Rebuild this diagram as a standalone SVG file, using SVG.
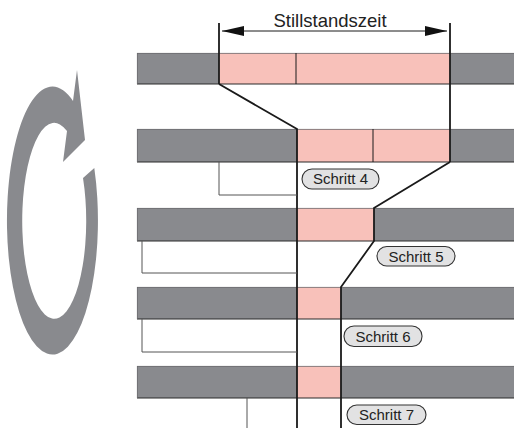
<svg xmlns="http://www.w3.org/2000/svg" width="514" height="428" viewBox="0 0 514 428">
<defs>
<style>
.bar{fill:#898a8e;}
.pink{fill:#f8c1ba;}
.edgeB{stroke:#2a2a2a;stroke-width:1.2;fill:none;}
.edgeT{stroke:#6a6a6e;stroke-width:0.8;fill:none;}
.blk{stroke:#1a1a1a;stroke-width:1.8;fill:none;}
.thin{stroke:#1a1a1a;stroke-width:1;fill:none;}
.brk{stroke:#555;stroke-width:1;fill:none;}
.pill{fill:#e2e2e3;stroke:#333;stroke-width:1.1;}
.lbl{font-family:"Liberation Sans",Arial,sans-serif;font-size:15px;fill:#222;text-anchor:middle;}
</style>
<marker id="ah" viewBox="0 0 22 10" refX="22" refY="5" markerWidth="22" markerHeight="10" markerUnits="userSpaceOnUse" orient="auto-start-reverse">
<path d="M0,0 L22,5 L0,10 Z" fill="#111"/>
</marker>
</defs>
<rect width="514" height="428" fill="#fff"/>

<g id="cycle-arrow">
<path d="M94.3,168 A45.5,134 0 1 1 73,101 L77,70 L85,140 L63,162 L67,131 A32,98 0 1 0 83,178 Z" fill="#898a8e"/>
</g>

<g id="row1">
<rect class="bar" x="137" y="53" width="377" height="31"/>
<rect class="pink" x="219" y="53" width="231" height="31"/>
<line class="edgeT" x1="137" y1="53.4" x2="514" y2="53.4"/>
<line class="edgeB" x1="137" y1="84" x2="514" y2="84"/>
<line class="edgeT" x1="137.4" y1="53" x2="137.4" y2="84"/>
<line class="thin" x1="296" y1="53" x2="296" y2="84"/>
</g>

<g id="row2">
<rect class="bar" x="137" y="129" width="377" height="33"/>
<rect class="pink" x="297" y="129" width="153" height="33"/>
<line class="edgeT" x1="137" y1="129.4" x2="514" y2="129.4"/>
<line class="edgeB" x1="137" y1="162" x2="514" y2="162"/>
<line class="edgeT" x1="137.4" y1="129" x2="137.4" y2="162"/>
<line class="thin" x1="373" y1="129" x2="373" y2="162"/>
</g>

<g id="row3">
<rect class="bar" x="137" y="208" width="377" height="33"/>
<rect class="pink" x="297" y="208" width="77" height="33"/>
<line class="edgeT" x1="137" y1="208.4" x2="514" y2="208.4"/>
<line class="edgeB" x1="137" y1="241" x2="514" y2="241"/>
<line class="edgeT" x1="137.4" y1="208" x2="137.4" y2="241"/>
</g>

<g id="row4">
<rect class="bar" x="137" y="287" width="377" height="32"/>
<rect class="pink" x="297" y="287" width="44" height="32"/>
<line class="edgeT" x1="137" y1="287.4" x2="514" y2="287.4"/>
<line class="edgeB" x1="137" y1="319" x2="514" y2="319"/>
<line class="edgeT" x1="137.4" y1="287" x2="137.4" y2="319"/>
</g>

<g id="row5">
<rect class="bar" x="137" y="366" width="377" height="32"/>
<rect class="pink" x="297" y="366" width="44" height="32"/>
<line class="edgeT" x1="137" y1="366.4" x2="514" y2="366.4"/>
<line class="edgeB" x1="137" y1="398" x2="514" y2="398"/>
<line class="edgeT" x1="137.4" y1="366" x2="137.4" y2="398"/>
</g>

<g id="connectors">
<line class="blk" x1="219" y1="23" x2="219" y2="84"/>
<line class="blk" x1="450" y1="23" x2="450" y2="162"/>
<line class="thin" x1="222" y1="31" x2="447" y2="31" marker-start="url(#ah)" marker-end="url(#ah)"/>
<polyline class="blk" points="219,84 297,129 297,428"/>
<polyline class="blk" points="450,162 374,208 374,241 341,287 341,428"/>
<polyline class="brk" points="219,162 219,195 297,195"/>
<polyline class="brk" points="142,241 142,273 297,273"/>
<polyline class="brk" points="142,319 142,352 297,352"/>
<polyline class="brk" points="247,398 247,428"/>
</g>

<g id="title">
<text x="330" y="27" font-family="Liberation Sans, Arial, sans-serif" font-size="18.5" fill="#222" text-anchor="middle">Stillstandszeit</text>
</g>

<g id="schritt4">
<rect class="pill" x="302" y="169" width="77" height="20" rx="10"/>
<text class="lbl" x="340.5" y="184.3">Schritt 4</text>
</g>
<g id="schritt5">
<rect class="pill" x="377" y="246.5" width="78" height="19.5" rx="9.75"/>
<text class="lbl" x="416" y="261.5">Schritt 5</text>
</g>
<g id="schritt6">
<rect class="pill" x="344" y="326" width="78" height="20.5" rx="10"/>
<text class="lbl" x="383" y="341.5">Schritt 6</text>
</g>
<g id="schritt7">
<rect class="pill" x="347" y="405" width="79" height="19.5" rx="9.75"/>
<text class="lbl" x="386.5" y="420">Schritt 7</text>
</g>
</svg>
